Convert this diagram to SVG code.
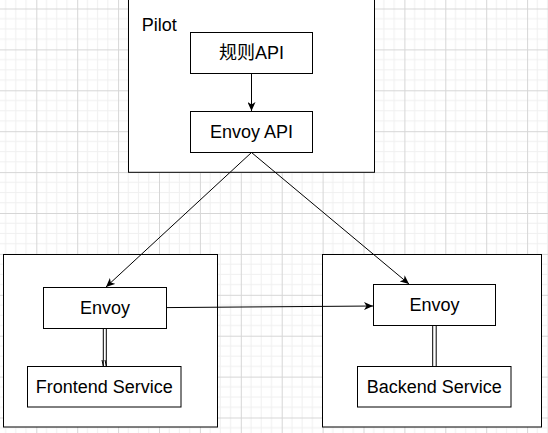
<svg xmlns="http://www.w3.org/2000/svg" width="548" height="433" viewBox="0 0 548 433">
<style>
.box{fill:#fff;stroke:#000;stroke-width:1}
.lbl{font-family:"Liberation Sans","Noto Sans CJK SC",Arial,sans-serif;font-size:18px;fill:#000;text-anchor:middle}
.edge{fill:none;stroke:#000;stroke-width:1}
.minor{stroke:#f0f0f0;stroke-width:1}
.major{stroke:#d6d6d6;stroke-width:1}
</style>
<defs>
<pattern id="grid" patternUnits="userSpaceOnUse" x="36.3" y="8.5" width="40.9" height="40.9">
<rect width="40.9" height="40.9" fill="#fff"/>
<path class="minor" d="M10.225,0V40.9M20.45,0V40.9M30.675,0V40.9M0,10.225H40.9M0,20.45H40.9M0,30.675H40.9"/>
<path class="major" d="M0.5,0V40.9M0,0.5H40.9"/>
</pattern>
<marker id="arr" markerWidth="10" markerHeight="8" refX="9" refY="4" orient="auto" markerUnits="userSpaceOnUse">
<path d="M0,0 L9,4 L0,8 L2.5,4 Z" fill="#000"/>
</marker>
</defs>
<rect width="548" height="433" fill="url(#grid)"/>

<g id="pilot">
<rect class="box" x="128.5" y="-2" width="246" height="174.3"/>
<text class="lbl" x="141.7" y="30.5" style="text-anchor:start">Pilot</text>
</g>
<g id="left-pod">
<rect class="box" x="3.5" y="254.5" width="214" height="172.5"/>
</g>
<g id="right-pod">
<rect class="box" x="322.5" y="254.5" width="219" height="172.5"/>
</g>
<g id="rule-api">
<rect class="box" x="190.5" y="32.5" width="122" height="41"/>
<text class="lbl" x="251.5" y="59">规则API</text>
</g>
<g id="envoy-api">
<rect class="box" x="190.5" y="111.5" width="122" height="41"/>
<text class="lbl" x="251.5" y="138.3">Envoy API</text>
</g>
<g id="envoy-left">
<rect class="box" x="43.5" y="287.5" width="123" height="41"/>
<text class="lbl" x="105" y="314.3">Envoy</text>
</g>
<g id="frontend">
<rect class="box" x="27.5" y="366.5" width="153.5" height="40.5"/>
<text class="lbl" x="104.2" y="393">Frontend Service</text>
</g>
<g id="envoy-right">
<rect class="box" x="373.5" y="284.5" width="122" height="41"/>
<text class="lbl" x="434.5" y="311">Envoy</text>
</g>
<g id="backend">
<rect class="box" x="357.5" y="366.5" width="153.5" height="40.5"/>
<text class="lbl" x="434.2" y="393">Backend Service</text>
</g>

<g id="connectors">
<line class="edge" x1="251.5" y1="73.5" x2="251.5" y2="111" marker-end="url(#arr)"/>
<line class="edge" x1="251.5" y1="152.5" x2="106" y2="287" marker-end="url(#arr)"/>
<line class="edge" x1="251.5" y1="152.5" x2="409" y2="284" marker-end="url(#arr)"/>
<line class="edge" x1="166.5" y1="307.6" x2="373" y2="306" marker-end="url(#arr)"/>
<path class="edge" d="M103.3,328.5V366M106.3,328.5V366M102,360L103.3,366M105,360L106.3,366"/>
<path class="edge" d="M432.7,325.5V366.5M436.2,325.5V366.5"/>
</g>
</svg>
